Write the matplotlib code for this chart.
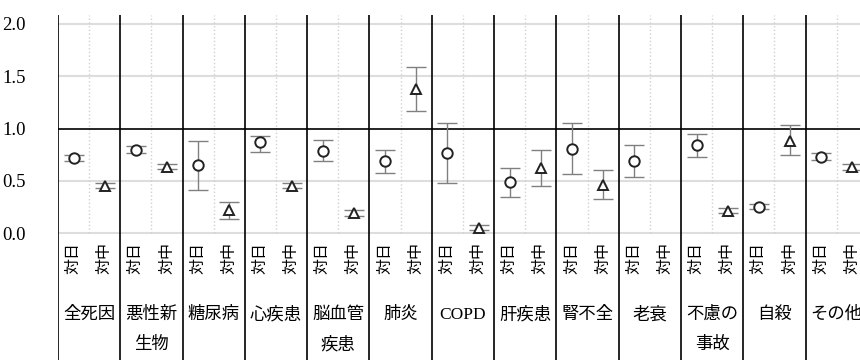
import numpy as np
import matplotlib
matplotlib.use("Agg")
import matplotlib.pyplot as plt

# 死因別の比 (対日 / 対中) と区間
causes = ['全死因', '悪性新\n生物', '糖尿病', '心疾患', '脳血管\n疾患', '肺炎', 'COPD',
          '肝疾患', '腎不全', '老衰', '不慮の\n事故', '自殺', 'その他']
sub_labels = ['対日', '対中']

jp_est = [0.72, 0.80, 0.65, 0.87, 0.79, 0.69, 0.77, 0.49, 0.81, 0.69, 0.84, 0.25, 0.73]
jp_lo = [0.69, 0.77, 0.41, 0.78, 0.69, 0.58, 0.48, 0.35, 0.57, 0.54, 0.73, 0.23, 0.70]
jp_hi = [0.75, 0.83, 0.88, 0.93, 0.89, 0.80, 1.05, 0.62, 1.05, 0.84, 0.95, 0.28, 0.77]

cn_est = [0.45, 0.63, 0.22, 0.45, 0.19, 1.38, 0.05, 0.62, 0.46, np.nan, 0.21, 0.88, 0.63]
cn_lo = [0.43, 0.61, 0.14, 0.43, 0.17, 1.17, 0.03, 0.45, 0.33, np.nan, 0.19, 0.75, 0.60]
cn_hi = [0.48, 0.66, 0.30, 0.48, 0.22, 1.59, 0.08, 0.80, 0.60, np.nan, 0.24, 1.03, 0.66]

yticks = [0.0, 0.5, 1.0, 1.5, 2.0]

fonts = ['Liberation Serif', 'Noto Sans CJK JP', 'DejaVu Sans']
plt.rcParams['font.family'] = fonts

W, H = 860, 360
fig = plt.figure(figsize=(W / 100, H / 100), dpi=100)
left, top = 58, 15
unit = 62.3
ax = fig.add_axes([left / W, 0, len(causes) * unit / W, (H - top) / H])

ppu = 104.67  # pixels per y unit
y0 = 233.3    # pixel row of 0.0
ax.set_ylim((y0 - H) / ppu, (y0 - top) / ppu)
ax.set_xlim(0, len(causes))

for s in ax.spines.values():
    s.set_visible(False)
ax.set_xticks([])
ax.set_yticks(yticks)
ax.set_yticklabels(['%.1f' % v for v in yticks])
ax.tick_params(axis='y', length=0, pad=23, labelsize=13.5)
ytop = (y0 - top) / ppu

# horizontal grid
for v in yticks:
    if v == 1.0:
        ax.hlines(v, 0, len(causes), colors='black', lw=1.2, zorder=2)
    else:
        ax.hlines(v, 0, len(causes), colors='#dddddd', lw=1.5, zorder=1)

n = len(causes)
x = np.arange(n)
ax.vlines(x + 0.5, 0, ytop, colors='#d0d0d0', linestyles=':', lw=1, zorder=1)
ax.vlines(np.arange(n + 1), ax.get_ylim()[0], ytop, colors='black', lw=1.2, zorder=3)

def draw(xs, est, lo, hi, marker):
    est = np.array(est)
    err = np.array([est - np.array(lo), np.array(hi) - est])
    ax.errorbar(xs, est, yerr=err, fmt='none', ecolor='#808080', elinewidth=1,
                capsize=7, capthick=1, zorder=4)
    ax.plot(xs, est, linestyle='none', marker=marker, markersize=7.5 if marker == 'o' else 7.5,
            markerfacecolor='white', markeredgecolor='#222222', markeredgewidth=1.4, zorder=5)

draw(x + 0.25, jp_est, jp_lo, jp_hi, 'o')
draw(x + 0.75, cn_est, cn_lo, cn_hi, '^')

# table labels
y_sub = (y0 - 258) / ppu
y_l1 = (y0 - 315) / ppu
y_l2 = (y0 - 345) / ppu
for i, name in enumerate(causes):
    for j, s in enumerate(sub_labels):
        ax.text(i + 0.25 + 0.5 * j, y_sub, s, rotation=90, ha='center', va='center',
                fontsize=11.5, family=fonts)
    lines = name.split('\n')
    ax.text(i + 0.5, y_l1, lines[0], ha='center', va='center', fontsize=12.5, family=fonts)
    if len(lines) > 1:
        ax.text(i + 0.5, y_l2, lines[1], ha='center', va='center', fontsize=12.5, family=fonts)

fig.savefig('out.png', dpi=100)
